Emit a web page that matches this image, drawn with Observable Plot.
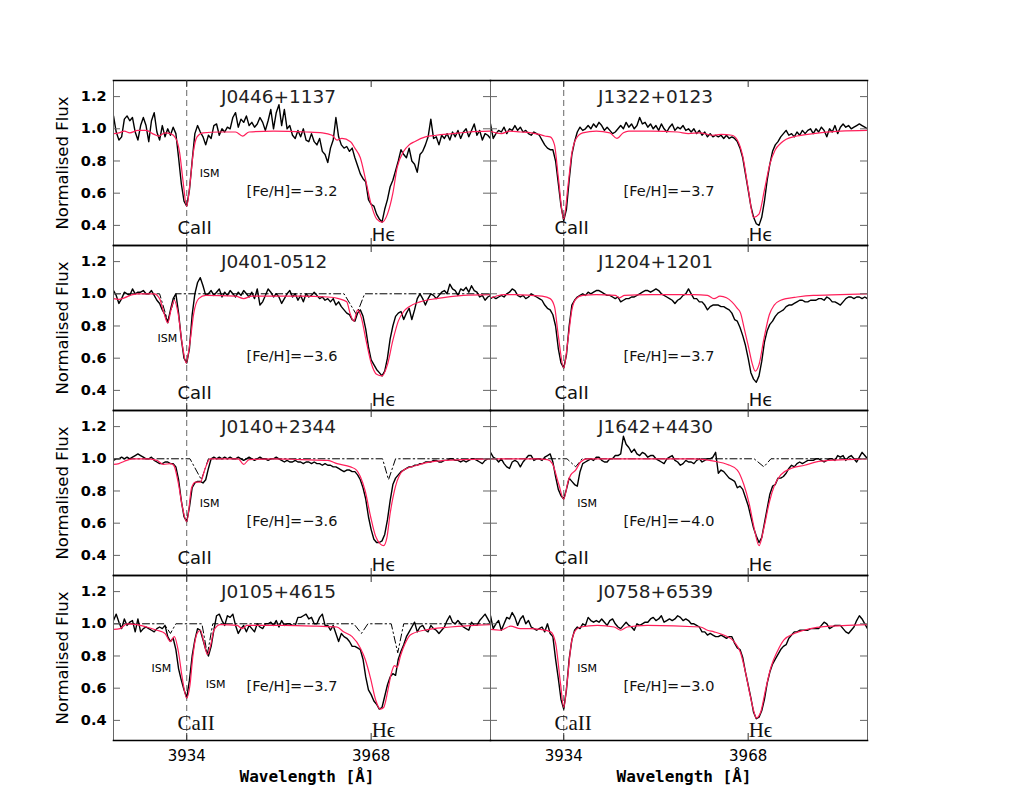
<!DOCTYPE html>
<html>
<head>
<meta charset="utf-8">
<script src="https://cdn.jsdelivr.net/npm/d3@7"></script>
<script src="https://cdn.jsdelivr.net/npm/@observablehq/plot@0.6"></script>
<style>
  html, body { margin: 0; padding: 0; background: #fff; }
  #chart { width: 1035px; height: 800px; }
</style>
</head>
<body>
<div id="chart"></div>
<script>
// ---------------- data ----------------
const gridStart = 3920;      // observed spectra sampled every 0.5 Å from 3920 Å
const gridStep = 0.5;
const xDomain = [3920.5, 3990];
const yDomain = [0.275, 1.3];
const xTicks = [3934, 3968];
const yTicks = [0.4, 0.6, 0.8, 1.0, 1.2];
const caIIWl = 3934;

const stars = ["J0446+1137", "J1322+0123", "J0401-0512", "J1204+1201",
               "J0140+2344", "J1642+4430", "J0105+4615", "J0758+6539"];
const panelCol = [0, 1, 0, 1, 0, 1, 0, 1];
const panelRow = [0, 0, 1, 1, 2, 2, 3, 3];
const fehValues = ["−3.2", "−3.7", "−3.6", "−3.7", "−3.6", "−4.0", "−3.7", "−3.0"];

// observed flux (black), 3920.0 … 3990.0 Å, step 0.5 Å (10 values per 5 Å row)
const obsJ0446 = [
  1.08, 1.08, 0.98, 0.93, 0.95, 1.06, 1.08, 1.05, 1.07, 0.98,
  0.93, 1.02, 1.07, 1.02, 0.92, 1.05, 1.10, 0.98, 0.93, 1.02,
  0.95, 1.00, 0.96, 1.01, 0.97, 0.82, 0.66, 0.55, 0.52, 0.62,
  0.80, 0.97, 1.02, 0.98, 0.95, 0.90, 0.96, 0.94, 1.02, 1.03,
  0.96, 1.00, 0.98, 1.01, 1.00, 1.07, 1.10, 1.01, 1.06, 1.04,
  1.08, 1.02, 1.04, 1.01, 1.03, 1.07, 1.04, 0.99, 1.05, 1.12,
  1.00, 1.10, 1.15, 1.02, 1.12, 1.00, 1.02, 0.96, 0.94, 0.99,
  0.95, 1.00, 0.93, 0.92, 0.97, 0.92, 0.90, 0.94, 0.86, 0.84,
  0.79, 0.88, 0.93, 1.07, 0.95, 0.90, 0.88, 0.89, 0.86, 0.88,
  0.82, 0.77, 0.72, 0.69, 0.67, 0.56, 0.53, 0.52, 0.47, 0.44,
  0.42, 0.50, 0.56, 0.64, 0.68, 0.74, 0.80, 0.87, 0.84, 0.82,
  0.88, 0.80, 0.78, 0.73, 0.84, 0.86, 0.90, 0.95, 1.06, 0.94,
  0.95, 0.90, 0.96, 0.94, 0.97, 0.93, 0.98, 0.95, 0.99, 0.94,
  0.98, 1.00, 0.95, 0.99, 1.03, 0.96, 0.99, 0.93, 0.97, 0.96,
  0.94];
const obsJ1322 = [
  1.02, 1.03, 0.94, 0.97, 0.99, 0.98, 1.01, 0.97, 1.00, 0.99,
  1.02, 0.99, 1.01, 0.98, 0.99, 0.97, 0.96, 0.98, 0.97, 0.96,
  0.93, 0.90, 0.88, 0.87, 0.87, 0.80, 0.66, 0.52, 0.43, 0.50,
  0.68, 0.84, 0.92, 0.98, 1.01, 0.99, 1.00, 1.02, 1.00, 1.03,
  1.01, 1.04, 1.02, 0.99, 1.01, 0.99, 0.97, 0.98, 1.00, 1.02,
  1.00, 1.04, 1.01, 1.03, 1.00, 1.02, 1.07, 1.03, 1.04, 1.01,
  1.03, 1.00, 1.02, 0.99, 1.03, 1.00, 0.98, 1.01, 1.03, 0.99,
  1.01, 1.00, 1.02, 0.99, 1.00, 0.98, 1.00, 0.97, 0.99, 0.96,
  0.98, 0.95, 0.97, 0.95, 0.96, 0.95, 0.96, 0.94, 0.96, 0.94,
  0.95, 0.94, 0.92, 0.88, 0.82, 0.72, 0.62, 0.52, 0.45, 0.41,
  0.40, 0.45, 0.55, 0.68, 0.78, 0.86, 0.90, 0.92, 0.95, 0.97,
  0.99, 0.96, 0.97, 0.95, 0.98, 0.96, 0.99, 0.97, 0.99, 1.00,
  0.97, 1.00, 0.98, 1.01, 0.99, 0.95, 1.00, 0.98, 1.02, 0.97,
  1.01, 1.03, 1.01, 1.02, 1.00, 1.01, 1.02, 1.03, 1.02, 1.01,
  1.00];
const obsJ0401 = [
  1.02, 1.02, 0.99, 0.94, 0.97, 1.01, 1.00, 0.99, 1.03, 1.00,
  1.01, 1.01, 1.02, 1.00, 1.00, 1.02, 0.99, 0.96, 0.94, 0.90,
  0.87, 0.82, 0.90, 0.97, 1.00, 0.88, 0.72, 0.60, 0.57, 0.66,
  0.87, 1.00, 1.07, 1.10, 1.05, 0.99, 1.00, 1.02, 0.99, 1.01,
  1.03, 0.98, 1.01, 0.99, 1.02, 1.00, 0.98, 1.01, 0.99, 1.02,
  1.00, 0.98, 1.01, 0.97, 1.03, 0.93, 0.95, 0.99, 1.03, 1.01,
  0.98, 1.00, 0.98, 0.94, 0.97, 1.00, 1.02, 0.98, 1.00, 0.96,
  0.99, 0.95, 1.00, 0.98, 0.99, 1.01, 0.99, 0.97, 0.98, 0.96,
  0.97, 0.95, 0.97, 0.93, 0.95, 0.92, 0.90, 0.88, 0.87, 0.84,
  0.83, 0.88, 0.90, 0.86, 0.78, 0.67, 0.59, 0.56, 0.53, 0.51,
  0.49, 0.52, 0.60, 0.72, 0.80, 0.86, 0.88, 0.89, 0.84, 0.88,
  0.91, 0.84, 0.90, 0.97, 1.00, 0.97, 0.93, 0.97, 1.00, 0.99,
  0.97, 0.99, 1.01, 1.02, 1.00, 1.06, 1.03, 1.02, 0.99, 1.03,
  1.02, 1.04, 1.01, 1.05, 1.02, 1.01, 0.98, 0.99, 0.96, 0.98,
  0.99];
const obsJ1204 = [
  0.98, 0.97, 0.98, 0.97, 0.98, 0.99, 0.98, 1.00, 1.01, 1.03,
  1.02, 0.99, 0.98, 0.99, 0.97, 0.98, 1.00, 0.99, 0.98, 0.97,
  0.96, 0.93, 0.91, 0.90, 0.87, 0.80, 0.66, 0.57, 0.54, 0.62,
  0.80, 0.93, 0.96, 0.98, 0.99, 1.00, 0.99, 1.01, 1.00, 1.01,
  1.02, 1.02, 1.01, 1.00, 0.99, 0.99, 0.98, 0.97, 0.98, 0.95,
  0.96, 0.97, 0.97, 0.98, 0.98, 0.99, 1.00, 1.01, 1.02, 1.02,
  1.01, 1.02, 1.03, 1.02, 1.00, 0.99, 0.98, 0.97, 0.96, 0.94,
  0.96, 0.97, 0.99, 1.00, 1.03, 1.00, 0.97, 0.97, 0.95, 0.95,
  0.93, 0.90, 0.92, 0.93, 0.93, 0.93, 0.92, 0.92, 0.91, 0.90,
  0.88, 0.84, 0.83, 0.79, 0.74, 0.68, 0.60, 0.51, 0.47, 0.45,
  0.49, 0.58, 0.70, 0.77, 0.81, 0.83, 0.86, 0.88, 0.89, 0.90,
  0.92, 0.93, 0.93, 0.94, 0.95, 0.96, 0.96, 0.95, 0.95, 0.96,
  0.96, 0.96, 0.97, 0.97, 0.96, 0.98, 0.97, 0.95, 0.95, 0.94,
  0.93, 0.95, 0.97, 0.98, 0.98, 0.97, 0.98, 0.98, 0.97, 0.98,
  0.97];
const obsJ0140 = [
  0.99, 0.99, 1.00, 1.00, 1.01, 1.00, 1.01, 1.00, 1.01, 1.02,
  1.03, 1.02, 1.01, 1.00, 1.00, 1.01, 0.99, 0.98, 0.97, 0.97,
  0.98, 0.98, 0.97, 0.97, 0.95, 0.87, 0.74, 0.64, 0.61, 0.70,
  0.82, 0.85, 0.86, 0.86, 0.85, 0.87, 0.94, 1.00, 1.01, 1.00,
  1.01, 1.00, 1.01, 1.00, 1.01, 1.00, 1.00, 1.01, 1.00, 0.99,
  1.00, 1.01, 1.00, 0.99, 1.00, 1.01, 1.00, 1.00, 0.99, 1.00,
  1.00, 1.01, 1.00, 0.99, 0.98, 0.99, 0.98, 0.98, 0.99, 0.98,
  0.98, 0.97, 0.98, 0.98, 0.97, 0.98, 0.97, 0.97, 0.96, 0.97,
  0.96, 0.96, 0.95, 0.95, 0.94, 0.93, 0.92, 0.93, 0.93, 0.92,
  0.92, 0.90, 0.87, 0.82, 0.75, 0.64, 0.56, 0.50, 0.48, 0.48,
  0.49, 0.53, 0.62, 0.74, 0.84, 0.88, 0.90, 0.92, 0.93, 0.94,
  0.95, 0.95, 0.96, 0.96, 0.97, 0.97, 0.98, 0.98, 0.98, 0.99,
  0.99, 0.98, 0.98, 0.99, 0.99, 1.00, 1.00, 0.99, 0.99, 0.98,
  0.99, 0.98, 0.99, 1.00, 1.00, 0.99, 0.98, 0.97, 0.99, 1.00,
  1.00];
const obsJ1642 = [
  1.00, 1.04, 1.01, 1.00, 0.98, 1.00, 0.97, 0.95, 0.94, 0.98,
  0.99, 0.98, 0.95, 0.98, 1.00, 1.02, 1.02, 0.99, 1.00, 1.00,
  0.99, 1.01, 1.02, 1.03, 0.98, 0.89, 0.81, 0.77, 0.75, 0.81,
  0.88, 0.86, 0.84, 0.83, 0.92, 0.97, 0.98, 0.99, 1.00, 0.99,
  1.01, 1.01, 0.99, 0.98, 0.98, 1.00, 1.00, 1.02, 1.02, 1.03,
  1.14, 1.09, 1.07, 1.04, 1.06, 1.03, 1.02, 1.04, 1.03, 1.01,
  1.02, 1.02, 1.00, 0.99, 0.98, 0.97, 1.00, 1.01, 1.02, 0.99,
  0.98, 0.96, 0.97, 0.99, 0.98, 0.98, 0.97, 0.99, 1.00, 0.98,
  0.99, 1.00, 1.00, 1.01, 1.04, 0.91, 0.93, 0.92, 0.90, 0.88,
  0.87, 0.86, 0.82, 0.83, 0.81, 0.76, 0.71, 0.64, 0.57, 0.52,
  0.48, 0.51, 0.60, 0.69, 0.78, 0.83, 0.84, 0.88, 0.88, 0.89,
  0.91, 0.94, 0.96, 0.95, 0.97, 0.98, 0.97, 0.98, 0.99, 0.99,
  0.99, 1.00, 1.00, 0.99, 0.98, 0.99, 1.00, 1.00, 0.99, 1.02,
  1.01, 1.02, 0.99, 1.01, 1.02, 1.00, 0.98, 1.01, 1.04, 1.02,
  1.00];
const obsJ0105 = [
  1.02, 1.02, 1.06, 1.01, 0.97, 1.03, 0.99, 1.01, 1.02, 0.95,
  1.03, 0.95, 0.97, 0.98, 0.97, 0.96, 0.95, 0.97, 0.98, 0.97,
  0.99, 0.92, 0.89, 0.91, 0.84, 0.72, 0.65, 0.59, 0.54, 0.65,
  0.80, 0.90, 0.97, 0.96, 0.90, 0.84, 0.80, 0.86, 0.96, 1.05,
  1.06, 1.02, 0.99, 1.05, 1.04, 1.06, 0.99, 0.94, 0.97, 0.99,
  0.95, 0.99, 0.97, 0.95, 1.00, 0.98, 0.97, 1.00, 1.00, 1.01,
  0.99, 1.02, 0.98, 1.02, 0.99, 1.00, 1.00, 0.99, 0.99, 1.04,
  1.04, 1.05, 1.06, 1.03, 1.04, 1.00, 1.00, 1.04, 1.06, 0.99,
  0.99, 0.96, 0.99, 0.94, 0.89, 0.94, 0.92, 0.91, 0.89, 0.86,
  0.86, 0.85, 0.84, 0.78, 0.67, 0.59, 0.56, 0.52, 0.50, 0.47,
  0.48, 0.55, 0.62, 0.67, 0.69, 0.68, 0.78, 0.83, 0.87, 0.92,
  0.95, 0.98, 1.01, 0.95, 0.98, 0.99, 0.96, 0.95, 0.99, 0.97,
  0.96, 0.94, 0.96, 0.98, 1.02, 1.05, 1.01, 1.00, 1.02, 1.00,
  0.98, 0.97, 0.96, 1.01, 0.99, 0.99, 1.02, 1.04, 1.06, 1.03,
  1.00];
const obsJ0758 = [
  1.03, 1.05, 0.97, 1.00, 1.02, 0.96, 1.00, 1.04, 1.03, 1.07,
  1.04, 0.99, 1.03, 1.05, 1.00, 1.02, 0.98, 0.97, 0.96, 0.97,
  0.98, 0.95, 1.00, 0.94, 0.92, 0.78, 0.66, 0.53, 0.47, 0.59,
  0.78, 0.90, 0.96, 0.98, 0.97, 1.00, 0.99, 1.04, 1.02, 1.01,
  1.02, 1.01, 1.03, 1.01, 0.99, 1.02, 1.03, 1.00, 0.98, 0.97,
  0.99, 1.01, 0.99, 0.98, 0.96, 1.00, 0.99, 1.00, 1.01, 1.01,
  1.03, 1.04, 1.02, 1.03, 1.05, 1.01, 1.02, 1.03, 1.02, 1.03,
  1.05, 1.04, 1.02, 1.03, 1.02, 1.00, 1.00, 0.99, 0.98, 0.95,
  0.95, 0.93, 0.94, 0.93, 0.92, 0.92, 0.93, 0.92, 0.91, 0.92,
  0.92, 0.88, 0.85, 0.84, 0.79, 0.70, 0.62, 0.54, 0.45, 0.41,
  0.42, 0.46, 0.53, 0.63, 0.70, 0.75, 0.78, 0.81, 0.84, 0.86,
  0.87, 0.91, 0.93, 0.95, 0.95, 0.96, 0.96, 0.96, 0.96, 0.97,
  0.97, 0.97, 0.97, 0.99, 1.01, 1.00, 0.97, 0.98, 0.99, 0.99,
  0.99, 0.97, 0.95, 0.94, 0.96, 0.98, 1.02, 1.05, 1.03, 1.00,
  0.97];

// synthetic model (red): [wavelength Å, flux]
const modelJ0446 = [[3920.5,0.97],[3921.5,0.975],[3922.5,0.985],[3923.5,0.975],[3925,0.99],[3926.5,0.99],[3928,0.965],[3928.8,0.955],[3930,0.975],[3931,0.97],[3932,0.94],[3932.7,0.85],[3933.3,0.68],[3934,0.52],[3934.6,0.66],[3935.2,0.85],[3935.9,0.95],[3937,0.975],[3940,0.98],[3943,0.98],[3944.3,0.955],[3945.5,0.98],[3950,0.985],[3956,0.98],[3959,0.975],[3960.8,0.96],[3961.7,0.93],[3962.6,0.94],[3964.2,0.92],[3965,0.88],[3966,0.82],[3967,0.68],[3968,0.53],[3969,0.44],[3970,0.42],[3971,0.47],[3972,0.6],[3972.8,0.76],[3974,0.86],[3975,0.9],[3976,0.92],[3978,0.95],[3980,0.96],[3983,0.97],[3986,0.98],[3990,0.985]];
const modelJ1322 = [[3920.5,0.985],[3921.5,0.975],[3922.5,0.97],[3924,0.985],[3926,0.98],[3928,0.975],[3929.5,0.965],[3930.5,0.955],[3931.5,0.95],[3932.3,0.9],[3933,0.7],[3934,0.44],[3934.8,0.65],[3935.5,0.85],[3936.3,0.94],[3937.5,0.975],[3940,0.985],[3942.5,0.975],[3943.8,0.94],[3945,0.975],[3946,0.985],[3950,0.985],[3955,0.98],[3957,0.97],[3959,0.975],[3961.5,0.96],[3963,0.965],[3965,0.96],[3966,0.93],[3967,0.83],[3968,0.63],[3969,0.45],[3970,0.47],[3971,0.62],[3972,0.78],[3973,0.87],[3974,0.91],[3975,0.935],[3977,0.955],[3980,0.97],[3985,0.985],[3990,0.99]];
const modelJ0401 = [[3920.5,0.97],[3921.5,0.965],[3922.5,0.975],[3924,0.995],[3925,1.0],[3928,1.0],[3929,0.97],[3929.8,0.88],[3930.5,0.82],[3931.1,0.9],[3931.7,0.96],[3932.4,0.88],[3933.2,0.68],[3933.9,0.57],[3934.6,0.7],[3935.3,0.88],[3936.2,0.97],[3937.5,0.99],[3943,0.985],[3944.5,0.97],[3946,0.985],[3955,0.985],[3960,0.98],[3962,0.97],[3963.5,0.95],[3964.1,0.88],[3964.8,0.83],[3965.5,0.9],[3966.2,0.85],[3967,0.72],[3968,0.57],[3969,0.5],[3970,0.49],[3971,0.56],[3972,0.71],[3973,0.83],[3974,0.89],[3975,0.92],[3977,0.95],[3980,0.97],[3985,0.99],[3990,0.995]];
const modelJ1204 = [[3920.5,0.975],[3921.5,0.985],[3923,0.995],[3925,0.995],[3928,0.99],[3930,0.985],[3931.5,0.97],[3932.3,0.92],[3933,0.74],[3934,0.54],[3934.8,0.72],[3935.5,0.9],[3936.3,0.97],[3937.5,0.99],[3940,0.995],[3943.5,0.99],[3944.3,0.975],[3945.2,0.99],[3950,0.995],[3958,0.995],[3960.5,0.99],[3961.7,0.97],[3962.8,0.985],[3964,0.975],[3965,0.95],[3966,0.91],[3966.6,0.88],[3967.3,0.78],[3968,0.68],[3968.8,0.56],[3969.3,0.52],[3970,0.56],[3970.9,0.72],[3971.9,0.87],[3972.8,0.93],[3974,0.96],[3975,0.97],[3977,0.98],[3980,0.99],[3985,0.995],[3990,1.0]];
const modelJ0140 = [[3920.5,0.965],[3921.5,0.97],[3922.5,0.985],[3924,1.0],[3927,1.0],[3928.5,0.99],[3929.7,0.965],[3931,0.97],[3931.6,0.96],[3932.5,0.84],[3933.2,0.7],[3934,0.61],[3934.9,0.82],[3935.6,0.855],[3936.5,0.855],[3937.4,0.94],[3938.3,1.0],[3943.5,1.0],[3944.5,0.965],[3945.5,0.995],[3950,1.0],[3955,0.995],[3960,0.99],[3961.7,0.97],[3964.2,0.95],[3965.3,0.93],[3966,0.89],[3966.9,0.8],[3967.9,0.64],[3968.8,0.52],[3969.7,0.47],[3970.3,0.46],[3970.9,0.51],[3971.5,0.66],[3972.5,0.83],[3974,0.93],[3976.5,0.96],[3978,0.975],[3980,0.985],[3985,0.995],[3990,1.0]];
const modelJ1642 = [[3920.5,1.0],[3929,1.0],[3931,0.995],[3931.9,0.97],[3933.1,0.84],[3934,0.75],[3934.8,0.86],[3935.3,0.9],[3936.2,0.93],[3937.1,0.98],[3938.3,1.0],[3958,1.0],[3961.7,0.985],[3964.2,0.965],[3966,0.93],[3967.2,0.84],[3968.2,0.72],[3969.1,0.57],[3970,0.46],[3970.9,0.57],[3971.9,0.73],[3972.8,0.83],[3974,0.9],[3975.9,0.94],[3978.4,0.96],[3981.4,0.985],[3986,0.995],[3990,1.0]];
const modelJ0105 = [[3920.5,0.965],[3921.7,0.97],[3923,1.0],[3924.8,0.995],[3926.6,0.98],[3928.5,0.96],[3930,0.94],[3930.95,0.89],[3931.7,0.92],[3932.5,0.82],[3933.1,0.68],[3934,0.54],[3934.6,0.62],[3935.1,0.79],[3935.9,0.94],[3936.5,0.96],[3937.2,0.88],[3937.8,0.81],[3938.5,0.88],[3939,0.96],[3940.2,0.995],[3943.3,0.99],[3944.2,0.97],[3945.1,0.99],[3951.9,0.99],[3958,0.985],[3961.7,0.98],[3962.9,0.95],[3964.5,0.92],[3966,0.85],[3966.9,0.78],[3967.9,0.66],[3968.8,0.53],[3969.7,0.47],[3970.3,0.48],[3971.1,0.59],[3971.7,0.69],[3972.3,0.74],[3972.8,0.73],[3973.4,0.8],[3974.3,0.88],[3975.2,0.93],[3977.7,0.96],[3982.6,0.98],[3990,0.995]];
const modelJ0758 = [[3920.5,0.965],[3922.3,0.96],[3924.2,0.985],[3926,0.97],[3927.9,0.97],[3929.7,0.965],[3931.6,0.95],[3932.5,0.88],[3933.4,0.63],[3934,0.48],[3934.6,0.63],[3935.4,0.88],[3936.2,0.96],[3937.1,0.98],[3940.2,0.99],[3943.3,0.98],[3944.5,0.96],[3945.7,0.98],[3949.4,0.99],[3959.2,0.98],[3960.5,0.96],[3961.7,0.95],[3963.5,0.93],[3965.4,0.89],[3966.6,0.82],[3967.5,0.7],[3968.4,0.55],[3969.1,0.45],[3969.5,0.415],[3970.3,0.45],[3971.2,0.59],[3972.2,0.73],[3973.4,0.83],[3974.6,0.9],[3976.5,0.94],[3978.3,0.96],[3980.2,0.975],[3983.2,0.985],[3986.3,0.99],[3990,0.995]];

// interstellar CaII component (dash-dot): [wavelength Å, flux]
const ismJ0401 = [[3920.5,1],[3929,1],[3930.5,0.83],[3932,1],[3963,1],[3965.3,0.87],[3966.8,1],[3990,1]];
const ismJ0140 = [[3920.5,1],[3934.6,1],[3936.7,0.87],[3938,1],[3970.1,1],[3971.2,0.87],[3972.5,1],[3990,1]];
const ismJ1642 = [[3920.5,1],[3934.6,1],[3936.2,0.95],[3937.4,1],[3969.1,1],[3970.9,0.95],[3972.2,1],[3990,1]];
const ismJ0105 = [[3920.5,1],[3929.8,1],[3931,0.94],[3932,1],[3936.8,1],[3937.8,0.81],[3938.8,1],[3964.8,1],[3966.2,0.94],[3967.4,1],[3971.7,1],[3972.9,0.82],[3974,1],[3990,1]];

// "ISM" annotations: star, wavelength, flux
const ismLabelStar = ["J0446+1137", "J0401-0512", "J0140+2344", "J1642+4430", "J0105+4615", "J0105+4615", "J0758+6539"];
const ismLabelWl   = [3936.4, 3928.6, 3936.4, 3936.5, 3927.5, 3937.5, 3936.5];
const ismLabelFlux = [0.72, 0.72, 0.72, 0.72, 0.72, 0.62, 0.72];

// line identification labels
const lineLabelText = ["CaII", "Hϵ"];
const lineLabelWl = [3932.3, 3968.1];
const lineLabelFlux = [0.385, 0.34];

// ---------------- build tables ----------------
const obsSeries = [obsJ0446, obsJ1322, obsJ0401, obsJ1204, obsJ0140, obsJ1642, obsJ0105, obsJ0758];
const modelSeries = [modelJ0446, modelJ1322, modelJ0401, modelJ1204, modelJ0140, modelJ1642, modelJ0105, modelJ0758];
const ismSeries = [null, null, ismJ0401, null, ismJ0140, ismJ1642, ismJ0105, null];

const panels = stars.map((star, i) => ({star, col: panelCol[i], row: panelRow[i], feh: fehValues[i]}));
const byStar = new Map(panels.map(p => [p.star, p]));

const obsRows = panels.flatMap((p, i) => obsSeries[i].map((f, k) => ({star: p.star, col: p.col, row: p.row, wl: gridStart + k * gridStep, flux: f})));
const modelRows = panels.flatMap((p, i) => modelSeries[i].map(([wl, f]) => ({star: p.star, col: p.col, row: p.row, wl, flux: f})));
const ismRows = panels.flatMap((p, i) => (ismSeries[i] || []).map(([wl, f]) => ({star: p.star, col: p.col, row: p.row, wl, flux: f})));
const ismLabels = ismLabelStar.map((s, i) => ({col: byStar.get(s).col, row: byStar.get(s).row, wl: ismLabelWl[i], flux: ismLabelFlux[i]}));
const lineLabels = panels.flatMap(p => lineLabelText.map((t, j) => ({col: p.col, row: p.row, text: t, wl: lineLabelWl[j], flux: lineLabelFlux[j]})));
const rowLabels = [0, 1, 2, 3].map(r => ({col: 0, row: r}));
const bottomLabels = [0, 1].map(c => ({col: c, row: 3}));

// ---------------- layout ----------------
const W = 1035, H = 800, mL = 113, mR = 168, mT = 80, mB = 60;
const panelW = (W - mL - mR) / 2;
const panelH = (H - mT - mB) / 4;
const red = "#ff1f5a";
const sans = "DejaVu Sans, sans-serif";

const chart = Plot.plot({
  width: W, height: H,
  marginLeft: mL, marginRight: mR, marginTop: mT, marginBottom: mB,
  x: {domain: xDomain},
  y: {domain: yDomain},
  fx: {domain: [0, 1], padding: 0, axis: null},
  fy: {domain: [0, 1, 2, 3], padding: 0, axis: null},
  style: {fontFamily: sans, background: "#fff", color: "#000", overflow: "visible"},
  marks: [
    Plot.ruleX(panels, {x: () => caIIWl, fx: "col", fy: "row", stroke: "#666", strokeWidth: 1, strokeDasharray: "6,4"}),
    Plot.line(ismRows, {x: "wl", y: "flux", z: "star", fx: "col", fy: "row", stroke: "#000", strokeWidth: 1, strokeDasharray: "7,3,1.5,3", clip: true}),
    Plot.line(obsRows, {x: "wl", y: "flux", z: "star", fx: "col", fy: "row", stroke: "#000", strokeWidth: 1.4, clip: true}),
    Plot.line(modelRows, {x: "wl", y: "flux", z: "star", fx: "col", fy: "row", stroke: red, strokeWidth: 1.2, curve: "monotone-x", clip: true}),
    Plot.frame({stroke: "#666", strokeWidth: 1}),
    Plot.frame({anchor: "top", stroke: "#000", strokeWidth: 1.6}),
    Plot.frame({anchor: "bottom", stroke: "#000", strokeWidth: 1.6}),
    Plot.tickY(yTicks, {y: d => d, stroke: "#666", insetRight: panelW - 7}),
    Plot.tickY(yTicks, {y: d => d, stroke: "#666", insetLeft: panelW - 7}),
    Plot.tickX(xTicks, {x: d => d, stroke: "#333", insetBottom: panelH - 7}),
    Plot.tickX(xTicks, {x: d => d, stroke: "#333", insetTop: panelH - 7}),
    Plot.axisY(yTicks, {anchor: "left", tickSize: 0, tickPadding: 7, tickFormat: d3.format(".1f"), label: null, fontSize: 14.5, fontWeight: "bold", fontFamily: sans}),
    Plot.axisX(xTicks, {anchor: "bottom", tickSize: 0, tickPadding: 10, tickFormat: d => String(d), label: null, fontSize: 15, fontFamily: sans}),
    // panel titles and metallicities
    Plot.text(panels, {fx: "col", fy: "row", text: "star", frameAnchor: "top-left", dx: 107.5, dy: 16.5, textAnchor: "start", lineAnchor: "middle", fontSize: 18.5, fill: "#222"}),
    Plot.text(panels, {fx: "col", fy: "row", text: d => `[Fe/H]=${d.feh}`, frameAnchor: "top-left", dx: 133, dy: 111, textAnchor: "start", lineAnchor: "middle", fontSize: 14.5, fill: "#111"}),
    // line IDs (sans in upper rows, serif in bottom row)
    Plot.text(lineLabels.filter(d => d.row < 3), {fx: "col", fy: "row", x: "wl", y: "flux", text: "text", textAnchor: "start", lineAnchor: "middle", fontSize: 18, fill: "#111"}),
    Plot.text(lineLabels.filter(d => d.row === 3), {fx: "col", fy: "row", x: "wl", y: "flux", text: "text", textAnchor: "start", lineAnchor: "middle", fontSize: 21, fontFamily: "Liberation Serif, serif", fill: "#111"}),
    Plot.text(ismLabels, {fx: "col", fy: "row", x: "wl", y: "flux", text: () => "ISM", textAnchor: "start", lineAnchor: "middle", fontSize: 11, fill: "#000"}),
    // axis titles
    Plot.text(rowLabels, {fx: "col", fy: "row", text: () => "Normalised Flux", frameAnchor: "left", textAnchor: "middle", lineAnchor: "middle", dx: -51, rotate: -90, fontSize: 16.5, fill: "#000"}),
    Plot.text(bottomLabels, {fx: "col", fy: "row", text: () => "Wavelength [Å]", frameAnchor: "bottom", textAnchor: "middle", lineAnchor: "middle", dx: 5, dy: 36, fontSize: 16, fontWeight: "bold", fontFamily: "DejaVu Sans Mono, monospace", fill: "#000"})
  ]
});
document.getElementById("chart").append(chart);
</script>
</body>
</html>
